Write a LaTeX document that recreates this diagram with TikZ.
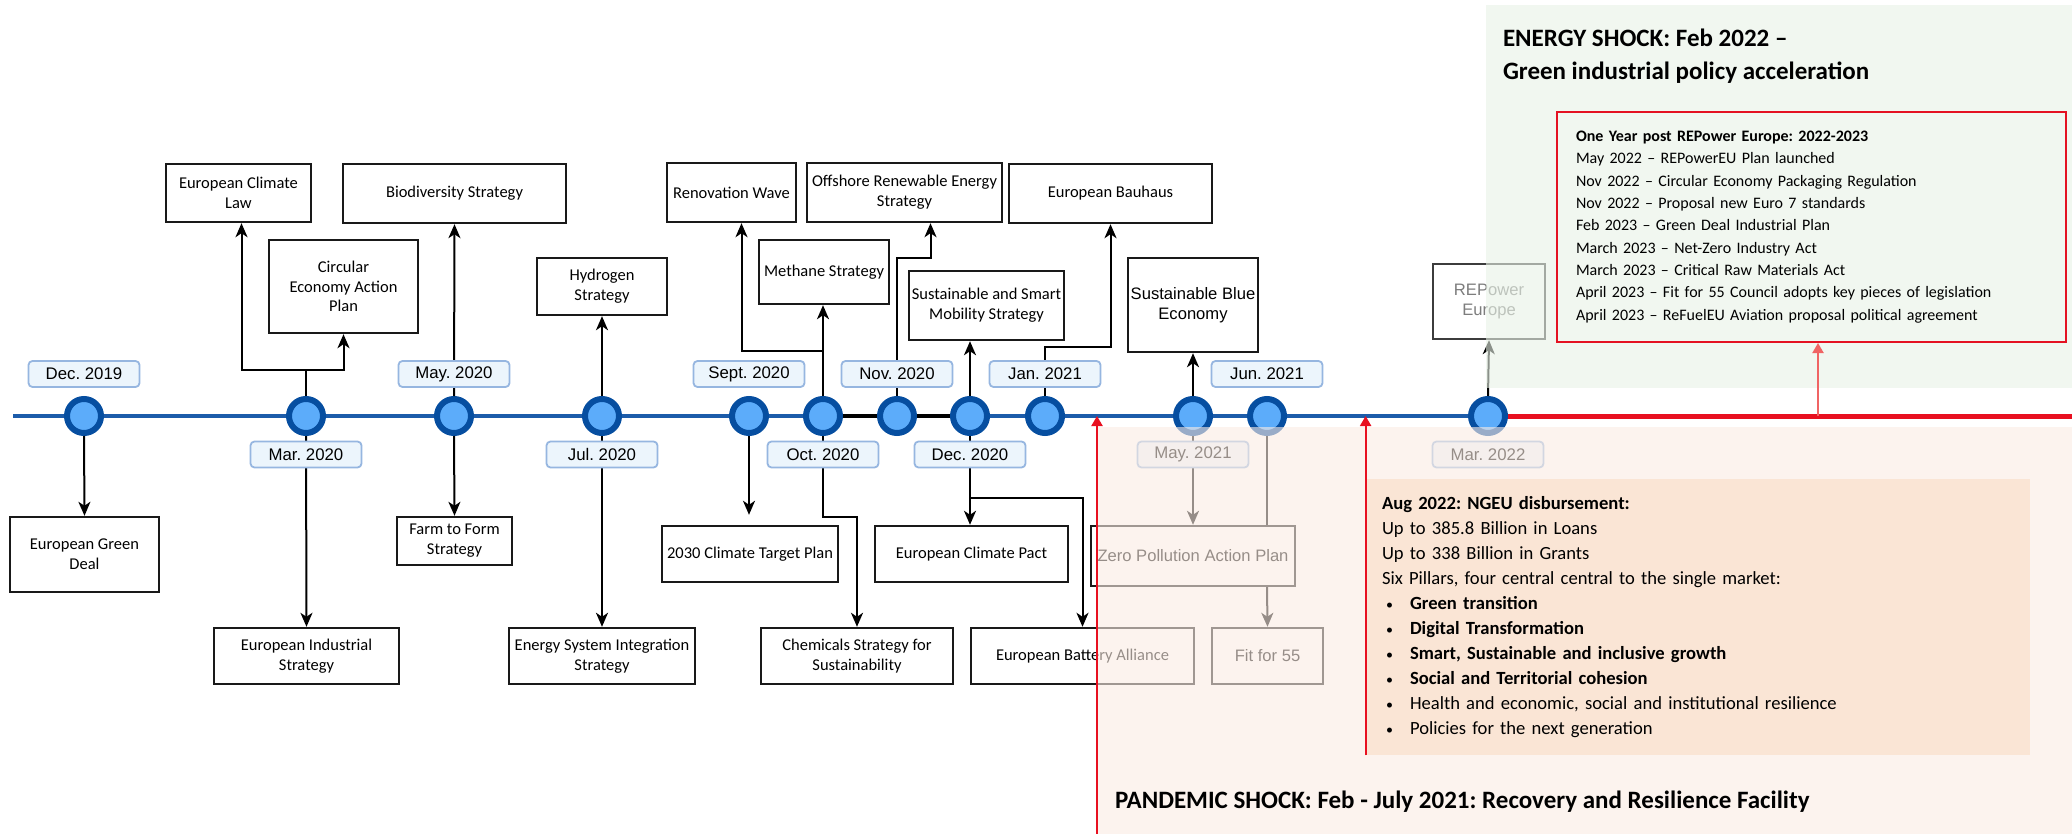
\documentclass[tikz,border=0pt]{standalone}
\usepackage{fontspec}
\setmainfont{Carlito}
\newfontfamily\drawiofont{Liberation Sans}
\usepackage{tikz}
\usetikzlibrary{arrows.meta}
\frenchspacing

\newcommand{\pillar}{\hspace*{2pt}\makebox[12pt][l]{\fontsize{7}{7}\selectfont\textbullet}}

\tikzset{
  sz/.style 2 args={minimum width=#1*.5pt,minimum height=#2*.5pt},
  box/.style={draw={rgb,255:red,25;green,25;blue,25},fill=white,line width=1.2pt,inner sep=1pt,align=center,font=\fontsize{8.25}{9.9}\selectfont},
  hbox/.style={box,font=\drawiofont\fontsize{8.3}{10}\selectfont},
  dot/.style={circle,draw={rgb,255:red,6;green,78;blue,160},fill={rgb,255:red,92;green,172;blue,250},line width=3pt,minimum size=17pt,inner sep=0pt},
  datelbl/.style={draw={rgb,255:red,150;green,182;blue,224},fill={rgb,255:red,236;green,245;blue,252},rounded corners=2pt,line width=.9pt,minimum width=55.5pt,minimum height=13pt,inner sep=0pt,font=\drawiofont\fontsize{8.4}{10}\selectfont},
  tline/.style={draw={rgb,255:red,28;green,92;blue,170},line width=2pt},
  conn/.style={draw=black,line width=1pt},
  arr/.style={conn,-{Stealth[length=7pt,width=6pt,inset=2pt]}},
  redarr/.style={draw={rgb,255:red,232;green,16;blue,32},line width=1pt,-{Triangle[length=5pt,width=5.5pt]}},
  panel/.style={draw=none,fill opacity=.6},
  txt/.style={inner sep=0pt,outer sep=0pt,anchor=west,align=left}
}

\begin{document}
\begin{tikzpicture}[x=.5pt,y=-.5pt]
\path[use as bounding box] (0,0) rectangle (2072,834);
\path[fill=white,draw=none] (0,0) rectangle (2072,834);

% timeline dots
\node[dot] (tdec19) at (84,416) {};
\node[dot] (tmar20) at (306,416) {};
\node[dot] (tmay20) at (454,416) {};
\node[dot] (tjul20) at (602,416) {};
\node[dot] (tsep20) at (749,416) {};
\node[dot] (toct20) at (823,416) {};
\node[dot] (tnov20) at (897,416) {};
\node[dot] (tdec20) at (970,416) {};
\node[dot] (tjan21) at (1045,416) {};
\node[dot] (tmay21) at (1193,416) {};
\node[dot] (tjun21) at (1267,416) {};
\node[dot] (tmar22) at (1488,416) {};
\coordinate (tstart) at (13,416);
\coordinate (tend) at (2072,416);
\draw[tline] (tstart) -- (tdec19) -- (tmar20) -- (tmay20) -- (tjul20) -- (tsep20) -- (toct20)
  -- (tnov20) -- (tdec20) -- (tjan21) -- (tmay21) -- (tjun21) -- (tmar22);
\draw[line width=1.7pt] (toct20) -- (tnov20) -- (tdec20);

% upper boxes
\node[box,sz={145}{58}] (climatelaw) at (238.5,193) {European Climate\\Law};
\node[box,sz={223}{59}] (biodiv) at (454.5,193.5) {Biodiversity Strategy};
\node[box,sz={149}{93}] (circular) at (343.5,286.5) {Circular\\Economy Action\\Plan};
\node[box,sz={130}{57}] (hydrogen) at (602,286.5) {Hydrogen\\Strategy};
\node[box,sz={129}{59}] (renovation) at (731.5,192.5) {Renovation Wave};
\node[box,sz={195}{59}] (offshore) at (904.5,192.5) {Offshore Renewable Energy\\Strategy};
\node[box,sz={203}{59}] (bauhaus) at (1110.5,193.5) {European Bauhaus};
\node[box,sz={130}{64}] (methane) at (824,272) {Methane Strategy};
\node[box,sz={155}{69}] (mobility) at (986.5,305.5) {Sustainable and Smart\\Mobility Strategy};
\node[hbox,sz={130}{94}] (blueeco) at (1193,305) {Sustainable Blue\\Economy};
\node[hbox,sz={112}{75},text={rgb,255:red,125;green,125;blue,125},draw={rgb,255:red,60;green,60;blue,60}] (repower) at (1489,301.5) {REPower\\Europe};

% lower boxes
\node[box,sz={149}{75}] (greendeal) at (84.5,554.5) {European Green\\Deal};
\node[box,sz={185}{56}] (industrial) at (306.5,656) {European Industrial\\Strategy};
\node[box,sz={115}{48}] (farm) at (454.5,541) {Farm to Form\\Strategy};
\node[box,sz={186}{56}] (energysys) at (602,656) {Energy System Integration\\Strategy};
\node[box,sz={176}{56}] (target) at (750,554) {2030 Climate Target Plan};
\node[box,sz={193}{56}] (pact) at (971.5,554) {European Climate Pact};
\node[hbox,sz={204}{60}] (zeropol) at (1193,556) {Zero Pollution Action Plan};
\node[box,sz={192}{56}] (chemicals) at (857,656) {Chemicals Strategy for\\Sustainability};
\node[box,sz={223}{56}] (battery) at (1082.5,656) {European Battery Alliance};
\node[hbox,sz={111}{56}] (fit55) at (1267.5,656) {Fit for 55};

% connectors
\coordinate (jmar) at (306,370);
\coordinate (joctup) at (823,351);
\coordinate (joctdn) at (823,517);
\coordinate (jnov) at (897,258);
\coordinate (jdec) at (970,498);
\coordinate (jjan) at (1045,347);
\draw[arr] (tdec19.south) -- (greendeal.north);
\draw[arr] (tmar20.north) -- (jmar) -| ([xshift=1.5pt]climatelaw.south);
\draw[arr] (jmar) -| (circular.south);
\draw[arr] (tmar20.south) -- (industrial.north);
\draw[arr] (tmay20.north) -- (biodiv.south);
\draw[arr] (tmay20.south) -- (farm.north);
\draw[arr] (tjul20.north) -- (hydrogen.south);
\draw[arr] (tjul20.south) -- (energysys.north);
\draw[arr,shorten >=5pt] (tsep20.south) -- (tsep20.south |- target.north);
\draw[arr] (toct20.north) -- (joctup) -| ([xshift=5pt]renovation.south);
\draw[arr] (joctup) -- (joctup |- methane.south);
\draw[arr] (toct20.south) -- (joctdn) -| (chemicals.north);
\draw[arr] (tnov20.north) -- (jnov) -| ([xshift=13pt]offshore.south);
\draw[arr] (tdec20.north) -- (tdec20.north |- mobility.south);
\draw[arr] (tdec20.south) -- (tdec20.south |- pact.north);
\draw[arr] (jdec) -| (battery.north);
\draw[arr] (tjan21.north) -- (jjan) -| (bauhaus.south);
\draw[arr] (tmay21.north) -- (blueeco.south);
\draw[arr] (tmay21.south) -- (zeropol.north);
\draw[conn] (tjun21.south) -- (tjun21.south |- zeropol.north);
\draw[arr] (tjun21.south |- zeropol.south) -- (fit55.north);
\draw[arr] (tmar22.north) -- (repower.south);

% date labels
\node[datelbl] (ldec19) at (84,374) {Dec. 2019};
\node[datelbl] (lmar20) at (306,454.5) {Mar. 2020};
\node[datelbl] (lmay20) at (454,374) {May. 2020};
\node[datelbl] (ljul20) at (602,454.5) {Jul. 2020};
\node[datelbl] (lsep20) at (749,374) {Sept. 2020};
\node[datelbl] (loct20) at (823,454.5) {Oct. 2020};
\node[datelbl] (lnov20) at (897,374) {Nov. 2020};
\node[datelbl] (ldec20) at (970,454.5) {Dec. 2020};
\node[datelbl] (ljan21) at (1045,374) {Jan. 2021};
\node[datelbl] (lmay21) at (1193,454.5) {May. 2021};
\node[datelbl] (ljun21) at (1267,374) {Jun. 2021};
\node[datelbl] (lmar22) at (1488,454.5) {Mar. 2022};

% shock panels
\path[panel,fill={rgb,255:red,232;green,242;blue,230}] (1486,5) rectangle (2072,388);
\path[panel,fill={rgb,255:red,251;green,236;blue,227}] (1097,427) rectangle (2072,834);

\node[txt,font=\bfseries\fontsize{12.5}{16.5}\selectfont] (energytitle) at (1503,56.5) {ENERGY SHOCK: Feb 2022 --\\Green industrial policy acceleration};
\node[draw={rgb,255:red,228;green,18;blue,34},line width=1pt,sz={509}{230},text width=235.5pt,inner xsep=9.5pt,align=left,font=\fontsize{8}{11.15}\selectfont] (yearbox) at (1811.5,227) {\textbf{One Year post REPower Europe: 2022-2023}\\
May 2022 -- REPowerEU Plan launched\\
Nov 2022 -- Circular Economy Packaging Regulation\\
Nov 2022 -- Proposal new Euro 7 standards\\
Feb 2023 -- Green Deal Industrial Plan\\
March 2023 -- Net-Zero Industry Act\\
March 2023 -- Critical Raw Materials Act\\
April 2023 -- Fit for 55 Council adopts key pieces of legislation\\
April 2023 -- ReFuelEU Aviation proposal political agreement};

\node[fill={rgb,255:red,250;green,229;blue,213},sz={664}{276},text width=316pt,inner xsep=8pt,align=left,font=\fontsize{9.3}{12.5}\selectfont] (ngeu) at (1698,617) {\textbf{Aug 2022: NGEU disbursement:}\\
Up to 385.8 Billion in Loans\\
Up to 338 Billion in Grants\\
Six Pillars, four central central to the single market:\\
\pillar\textbf{Green transition}\\
\pillar\textbf{Digital Transformation}\\
\pillar\textbf{Smart, Sustainable and inclusive growth}\\
\pillar\textbf{Social and Territorial cohesion}\\
\pillar Health and economic, social and institutional resilience\\
\pillar Policies for the next generation};
\node[txt,font=\bfseries\fontsize{12.5}{15}\selectfont] (pandemictitle) at (1115,802) {PANDEMIC SHOCK: Feb - July 2021: Recovery and Resilience Facility};

% red markers
\coordinate (feb21) at (1097,834);
\coordinate (yearbase) at (1818,416);
\draw[line width=2.5pt,draw={rgb,255:red,232;green,16;blue,32}] (tmar22) -- (tend);
\draw[redarr] (feb21) -- (feb21 |- tstart);
\draw[redarr] (ngeu.south west) -- (ngeu.south west |- tstart);
\draw[redarr,draw={rgb,255:red,240;green,100;blue,100}] (yearbase) -- (yearbase |- yearbox.south);
\end{tikzpicture}
\end{document}
